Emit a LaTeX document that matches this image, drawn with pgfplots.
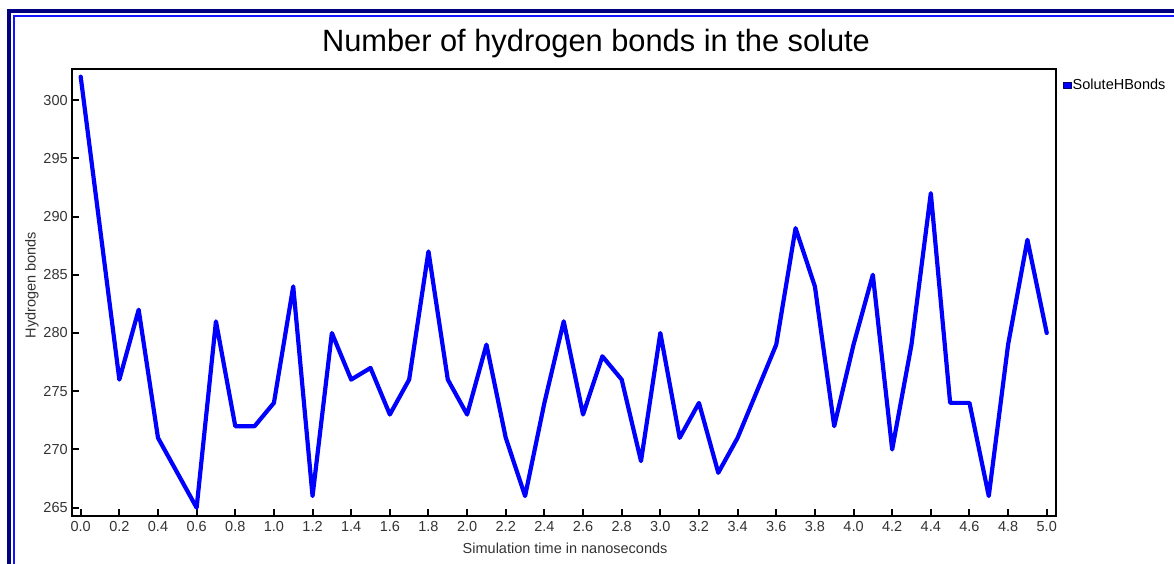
\documentclass[border=0pt]{standalone}
\usepackage{pgfplots}
\pgfplotsset{compat=1.18}
\usepackage{fontspec}
\setmainfont{Liberation Sans}

\definecolor{framenavy}{RGB}{0,0,128}
\definecolor{frameblue}{RGB}{20,20,255}
\definecolor{labelgray}{RGB}{51,51,51}
\definecolor{seriesblue}{RGB}{0,0,255}

\begin{document}
\begin{tikzpicture}[x=1pt,y=1pt]
  % fixed page size
  \useasboundingbox (0,0) rectangle (1174,564);

  % double frame along the left and top edges
  \draw[framenavy, line width=4.3pt] (8.85,-5) -- (8.85,553.2) -- (1180,553.2);
  \draw[frameblue, line width=2pt] (13.8,-5) -- (13.8,547.8) -- (1180,547.8);

  % chart title
  \node[anchor=base, font=\fontsize{30.8}{34}\selectfont, inner sep=0pt]
    at (596,512) {Number of hydrogen bonds in the solute};

  \begin{axis}[
    at={(72.2pt,48pt)}, anchor=south west,
    scale only axis,
    width=983.8pt, height=447.2pt,
    xmin=-0.044, xmax=5.048,
    ymin=264.29, ymax=302.68,
    xtick={0,0.2,0.4,0.6,0.8,1.0,1.2,1.4,1.6,1.8,2.0,2.2,2.4,2.6,2.8,3.0,3.2,3.4,3.6,3.8,4.0,4.2,4.4,4.6,4.8,5.0},
    ytick={265,270,275,280,285,290,295,300},
    xtick pos=bottom, ytick pos=left,
    tick align=inside,
    major tick length=7pt,
    every tick/.style={black, line width=2pt},
    axis line style={black, line width=2.3pt},
    /pgf/number format/assume math mode=true,
    x tick label style={/pgf/number format/.cd, fixed, fixed zerofill, precision=1, /tikz/.cd},
    y tick label style={/pgf/number format/.cd, fixed, precision=0, /tikz/.cd},
    tick label style={font=\fontsize{14.5}{17}\selectfont, text=labelgray},
    xticklabel style={yshift=-2pt},
    yticklabel style={xshift=-1pt},
    label style={font=\fontsize{14.5}{17}\selectfont, text=labelgray},
    xlabel={Simulation time in nanoseconds},
    ylabel={Hydrogen bonds},
    xlabel style={at={(axis description cs:0.501,-0.0716)}, anchor=center},
    ylabel style={at={(axis description cs:-0.0409,0.5166)}, anchor=center, rotate=0},
    legend style={
      at={(axis description cs:1,0.963)}, anchor=west,
      xshift=7.3pt,
      draw=none, fill=none, inner sep=0pt, outer sep=0pt,
      font=\fontsize{14.5}{17}\selectfont,
      nodes={inner sep=1pt, text=black},
      /tikz/every even column/.style={column sep=0pt},
    },
    legend cell align=left,
    legend image code/.code={
      \draw[fill=seriesblue, draw=black!60!seriesblue, line width=0.8pt]
        (0pt,-3.2pt) rectangle (7.6pt,3.2pt);
    },
  ]
    \addplot[seriesblue, line width=4.2pt, line join=round, line cap=round, mark=none]
      coordinates {
        (0.0,302) (0.1,289) (0.2,276) (0.3,282) (0.4,271)
        (0.5,268) (0.6,265) (0.7,281) (0.8,272) (0.9,272)
        (1.0,274) (1.1,284) (1.2,266) (1.3,280) (1.4,276)
        (1.5,277) (1.6,273) (1.7,276) (1.8,287) (1.9,276)
        (2.0,273) (2.1,279) (2.2,271) (2.3,266) (2.4,274)
        (2.5,281) (2.6,273) (2.7,278) (2.8,276) (2.9,269)
        (3.0,280) (3.1,271) (3.2,274) (3.3,268) (3.4,271)
        (3.5,275) (3.6,279) (3.7,289) (3.8,284) (3.9,272)
        (4.0,279) (4.1,285) (4.2,270) (4.3,279) (4.4,292)
        (4.5,274) (4.6,274) (4.7,266) (4.8,279) (4.9,288)
        (5.0,280)
      };
    \addlegendentry{SoluteHBonds}
  \end{axis}
\end{tikzpicture}
\end{document}
